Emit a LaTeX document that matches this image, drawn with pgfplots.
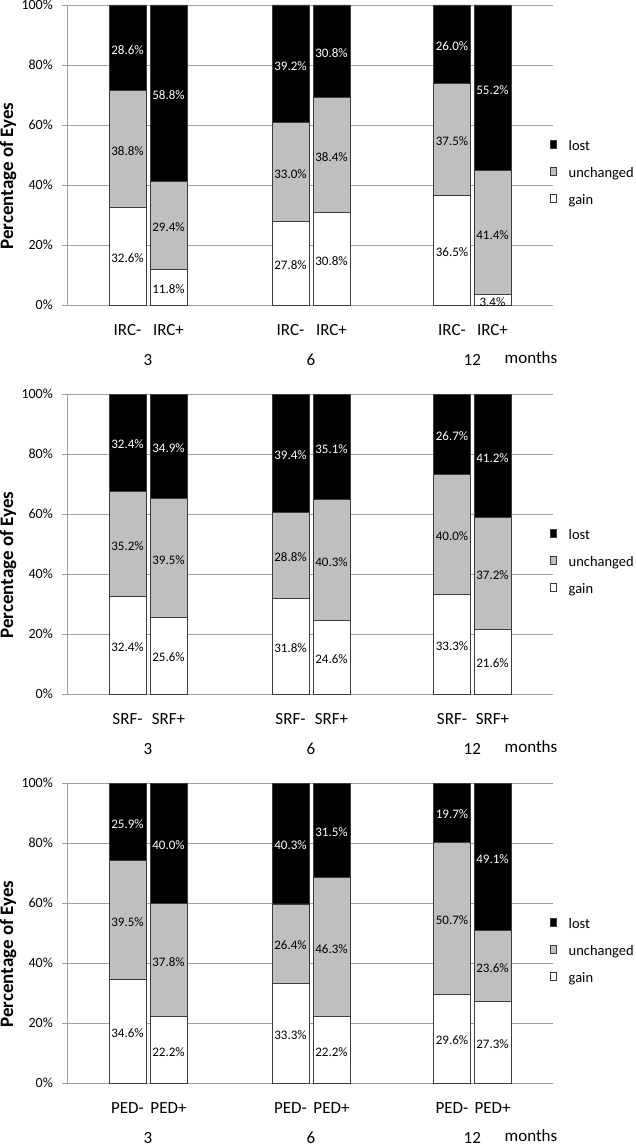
\documentclass[border=0pt]{standalone}
\usepackage{fontspec}
\setmainfont{Carlito}
\usepackage{pgfplots}
\usepackage{pgfplotstable}
\pgfplotsset{compat=1.18}
\definecolor{gridc}{RGB}{160,160,160}
\definecolor{unch}{RGB}{191,191,191}
\definecolor{barc}{RGB}{60,60,60}
\newcommand\datafont{\fontsize{13}{15}\selectfont}
\newcommand\ytfont{\fontsize{14}{16}\selectfont}
\newcommand\xtfont{\fontsize{17}{20}\selectfont}
\newcommand\legfont{\fontsize{14.5}{17}\selectfont}
\newcommand\labfont{\bfseries\fontsize{19}{22}\selectfont}

\pgfplotstableread{
x g u l
127.5 32.6 38.8 28.6
168.5 11.8 29.4 58.8
290.5 27.8 33.0 39.2
331.5 30.8 38.4 30.8
452 36.5 37.5 26.0
492.5 3.4 41.4 55.2
}\irc
\pgfplotstableread{
x g u l
127.5 32.4 35.2 32.4
168.5 25.6 39.5 34.9
290.5 31.8 28.8 39.4
331.5 24.6 40.3 35.1
452 33.3 40.0 26.7
492.5 21.6 37.2 41.2
}\srf
\pgfplotstableread{
x g u l
127.5 34.6 39.5 25.9
168.5 22.2 37.8 40.0
290.5 33.3 26.4 40.3
331.5 22.2 46.3 31.5
452 29.6 50.7 19.7
492.5 27.3 23.6 49.1
}\ped

\pgfplotsset{
  seglabel/.style={
    point meta={\thisrow{#1}},
    nodes near coords={\pgfmathprintnumber[fixed,fixed zerofill,precision=1,assume math mode=true]{\pgfplotspointmeta}\%},
    nodes near coords align={anchor=center},
    every node near coord/.append style={font=\datafont, text=black, anchor=center, inner sep=0pt, yshift=-2pt},
  },
  panel/.style={
    scale only axis, width=486pt, height=300pt,
    xmin=67, xmax=553, ymin=0, ymax=100,
    ybar stacked, bar width=37,
    clip=false,
    axis y line*=left, axis x line*=bottom,
    axis line style={gridc, line width=0.8pt},
    ymajorgrids, grid style={gridc, line width=0.8pt},
    ytick={0,20,40,60,80,100},
    yticklabel={\pgfmathprintnumber[fixed,precision=0,assume math mode=true]{\tick}\%},
    yticklabel style={font=\ytfont, anchor=east, inner sep=0pt, xshift=-14pt},
    major tick length=5pt, tick align=inside,
    ytick style={gridc, line width=0.8pt, xshift=-5pt},
    xtick={127.5,168.5,290.5,331.5,452,492.5},
    xtick style={draw=none},
    xticklabel style={font=\xtfont, anchor=base, inner sep=0pt, yshift=-30pt},
    extra x ticks={148,311,472.25},
    extra x tick labels={3,6,12},
    extra x tick style={major tick length=0pt, xticklabel style={yshift=-30pt}},
    ylabel={Percentage of Eyes},
    ylabel style={font=\labfont, at={(rel axis cs:-0.121,0.43)}, anchor=center},
    ybar legend/.style={legend image code/.code={\draw[##1, line width=0.6pt] (0pt,-0.5pt) rectangle (9pt,8.5pt);}},
    legend style={draw=none, fill=none, at={(0.9938,0.55)}, anchor=north west, inner sep=0pt, outer sep=0pt, row sep=14pt, column sep=0pt, font=\legfont, nodes={inner sep=0pt, text height=10pt, text depth=3pt},
      /tikz/every odd column/.append style={column sep=12pt}},
    reverse legend,
    legend cell align=left,
    /pgf/number format/assume math mode=true,
  },
}

\begin{document}
\begin{tikzpicture}
\useasboundingbox (0pt,0pt) rectangle (635pt,-1148pt);

\begin{axis}[panel, at={(67pt,-305pt)}, anchor=south west,
  xticklabels={IRC-,IRC+,IRC-,IRC+,IRC-,IRC+}]
\addplot[fill=white, draw=barc, line width=0.7pt, seglabel=g] table[x=x,y=g] {\irc};
\addplot[fill=unch, draw=barc, line width=0.7pt, seglabel=u] table[x=x,y=u] {\irc};
\addplot[fill=black, draw=barc, line width=0.7pt, seglabel=l, every node near coord/.append style={text=white}] table[x=x,y=l] {\irc};
\legend{gain,unchanged,lost}
\node[font=\xtfont, anchor=base, inner sep=0pt, yshift=-58pt] at (axis cs:531,0) {months};
\end{axis}

\begin{axis}[panel, at={(67pt,-694pt)}, anchor=south west,
  xticklabels={SRF-,SRF+,SRF-,SRF+,SRF-,SRF+}]
\addplot[fill=white, draw=barc, line width=0.7pt, seglabel=g] table[x=x,y=g] {\srf};
\addplot[fill=unch, draw=barc, line width=0.7pt, seglabel=u] table[x=x,y=u] {\srf};
\addplot[fill=black, draw=barc, line width=0.7pt, seglabel=l, every node near coord/.append style={text=white}] table[x=x,y=l] {\srf};
\legend{gain,unchanged,lost}
\node[font=\xtfont, anchor=base, inner sep=0pt, yshift=-58pt] at (axis cs:531,0) {months};
\end{axis}

\begin{axis}[panel, at={(67pt,-1083pt)}, anchor=south west,
  xticklabels={PED-,PED+,PED-,PED+,PED-,PED+}]
\addplot[fill=white, draw=barc, line width=0.7pt, seglabel=g] table[x=x,y=g] {\ped};
\addplot[fill=unch, draw=barc, line width=0.7pt, seglabel=u] table[x=x,y=u] {\ped};
\addplot[fill=black, draw=barc, line width=0.7pt, seglabel=l, every node near coord/.append style={text=white}] table[x=x,y=l] {\ped};
\legend{gain,unchanged,lost}
\node[font=\xtfont, anchor=base, inner sep=0pt, yshift=-58pt] at (axis cs:531,0) {months};
\end{axis}
\end{tikzpicture}
\end{document}
